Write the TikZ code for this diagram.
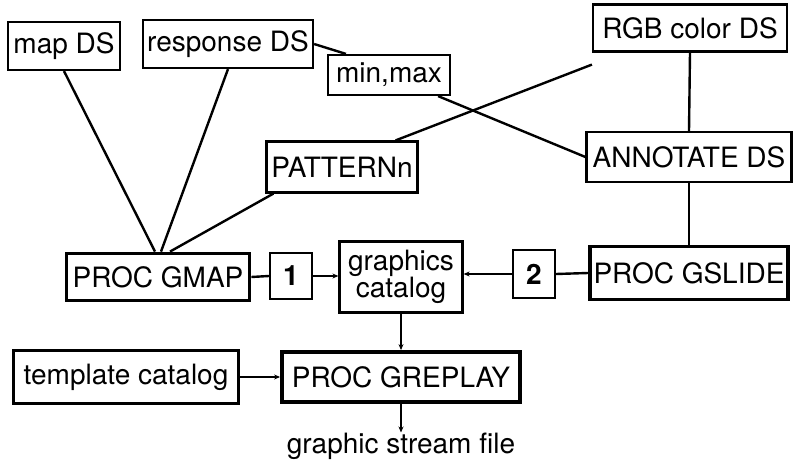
\documentclass[tikz,border=0pt]{standalone}
\usepackage{fontspec}
\setmainfont{TeX Gyre Heros}
\usetikzlibrary{arrows.meta}

\begin{document}
\begin{tikzpicture}[x=1pt,y=-1pt]
        \tikzstyle{every node}+=[inner sep=0pt,font=\fontsize{28}{30}\selectfont]
        \tikzstyle{box}=[draw,line width=2.2pt,align=center]
        \tikzstyle{proc}=[draw,line width=3.8pt,align=center]
        \tikzstyle{link}=[line width=2.4pt]
        \tikzstyle{flow}=[line width=2pt,-{Stealth[length=6pt,width=5pt]}]
        \useasboundingbox (0,0) rectangle (795,470);
        % data sets
        \node [box,minimum width=112,minimum height=48] (map) at (64,46) {map DS};
        \node [box,minimum width=170,minimum height=48] (resp) at (228,44) {response DS};
        \node [box,minimum width=122,minimum height=40] (minmax) at (389,75) {min,max};
        \node [box,minimum width=151,minimum height=51] (patt) at (342,167) {PATTERNn};
        \node [box,minimum width=194,minimum height=47] (rgb) at (690,28) {RGB color DS};
        \node [box,minimum width=205,minimum height=50] (annot) at (689,157) {ANNOTATE DS};
        % procs and catalogs
        \node [proc,minimum width=183,minimum height=47] (gmap) at (158,277) {PROC GMAP};
        \node [box,minimum width=42,minimum height=46] (one) at (291,276) {\bfseries 1};
        \node [box,minimum width=123,minimum height=71] (gcat) at (401,277) {graphics\\[-3pt]catalog};
        \node [box,minimum width=42,minimum height=48] (two) at (534,274) {\bfseries 2};
        \node [proc,minimum width=198,minimum height=53] (gslide) at (689,273) {PROC GSLIDE};
        \node [box,minimum width=225,minimum height=53] (tcat) at (126,377) {template catalog};
        \node [proc,minimum width=238,minimum height=50] (greplay) at (401,377) {PROC GREPLAY};
        \node (gsf) at (401,446) {graphic stream file};
        % connectors
        \draw [link] (map.south) -- ([xshift=-3]gmap.north);
        \draw [link] (resp.south) -- ([xshift=3]gmap.north);
        \draw [link] ([xshift=8]patt.south west) -- ([xshift=12]gmap.north);
        \draw [link] (resp.east) -- ([xshift=19]minmax.north west);
        \draw [link] ([xshift=-13]minmax.south east) -- (annot.west);
        \draw [link] ([xshift=-23]patt.north east) -- ([yshift=-12]rgb.south west);
        \draw [link] (rgb.south) -- (annot.north);
        \draw [link] (annot.south) -- (gslide.north);
        \draw [link] (gmap.east) -- (one.west);
        \draw [flow] (one.east) -- (one.east -| gcat.west);
        \draw [flow] (two.west) -- (two.west -| gcat.east);
        \draw [link] (gslide.west) -- (two.east);
        \draw [flow] (gcat.south) -- (greplay.north);
        \draw [flow] (tcat.east) -- (greplay.west);
        \draw [flow] (greplay.south) -- (gsf.north);
\end{tikzpicture}
\end{document}
